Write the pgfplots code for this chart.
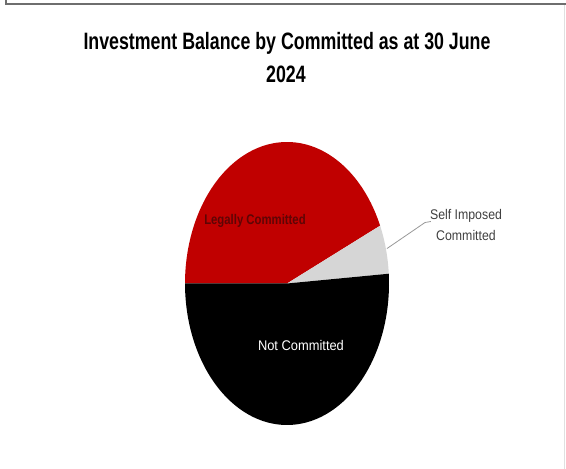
\documentclass[border=0pt]{standalone}
\usepackage{pgfplots}
\usepackage{pgfplotstable}
\usepackage{fontspec}
\pgfplotsset{compat=1.18}
\setmainfont{Liberation Sans}
\newfontfamily\titlefont[FakeStretch=0.75]{Liberation Sans}
\newfontfamily\labelfont[FakeStretch=0.88]{Liberation Sans}
\newfontfamily\notfont[FakeStretch=0.92]{Liberation Sans}
\newfontfamily\redfont[FakeStretch=0.81]{Liberation Sans}
\definecolor{piered}{HTML}{C00000}
\definecolor{piegrey}{HTML}{D6D6D6}
\definecolor{labred}{HTML}{5E0505}
\definecolor{framegrey}{HTML}{6E6E6E}

\pgfplotstableread{
label value
Legally 43.3
Self 5.6
Not 51.1
}\piedata

\begin{document}%
\begin{tikzpicture}[x=1bp,y=1bp]
\pgfplotstablegetelem{0}{value}\of\piedata \let\vA\pgfplotsretval
\pgfplotstablegetelem{1}{value}\of\piedata \let\vB\pgfplotsretval
\pgfplotstablegetelem{2}{value}\of\piedata \let\vC\pgfplotsretval
\pgfmathsetmacro{\tot}{\vA+\vB+\vC}
\pgfmathsetmacro{\aA}{180-360*\vA/\tot}
\pgfmathsetmacro{\aB}{\aA-360*\vB/\tot}
\fill[white] (0,0) rectangle (566,469);
% frame
\draw[framegrey, line width=2bp] (6,469) -- (6,464.5) -- (566,464.5);
\draw[black!12, line width=0.8bp] (564.5,464) -- (564.5,0);
% title
\node[font=\titlefont\bfseries\fontsize{23.7bp}{33bp}\selectfont, anchor=base] at (287,419) {Investment Balance by Committed as at 30 June};
\node[font=\titlefont\bfseries\fontsize{23.7bp}{33bp}\selectfont, anchor=base] at (286,386) {2024};
\begin{axis}[at={(185bp,44bp)}, anchor=south west, scale only axis,
  width=204bp, height=283bp, xmin=-1, xmax=1, ymin=-1, ymax=1,
  hide axis, clip=false]
\addplot[fill=piered, draw=none, domain=\aA:180, samples=90, variable=\t]
  ({cos(t)},{sin(t)}) -- (axis cs:0,0) -- cycle;
\addplot[fill=piegrey, draw=none, domain=\aB:\aA, samples=30, variable=\t]
  ({cos(t)},{sin(t)}) -- (axis cs:0,0) -- cycle;
\addplot[fill=black, draw=none, domain=-180:\aB, samples=120, variable=\t]
  ({cos(t)},{sin(t)}) -- (axis cs:0,0) -- cycle;
\node[font=\redfont\bfseries\fontsize{14bp}{16bp}\selectfont, text=labred] at (axis cs:-0.314,0.445) {Legally Committed};
\node[font=\notfont\fontsize{14bp}{16bp}\selectfont, text=white] at (axis cs:0.137,-0.438) {Not Committed};
\draw[black!40, line width=0.8bp] (axis cs:0.98,0.247) -- (axis cs:1.353,0.431) -- (axis cs:1.41,0.438);
\node[font=\labelfont\fontsize{14bp}{21bp}\selectfont, text=black!75, align=center] at (axis cs:1.755,0.41) {Self Imposed\\Committed};
\end{axis}
\pgfresetboundingbox
\useasboundingbox (0,0) rectangle (566,469);
\end{tikzpicture}%
\end{document}
